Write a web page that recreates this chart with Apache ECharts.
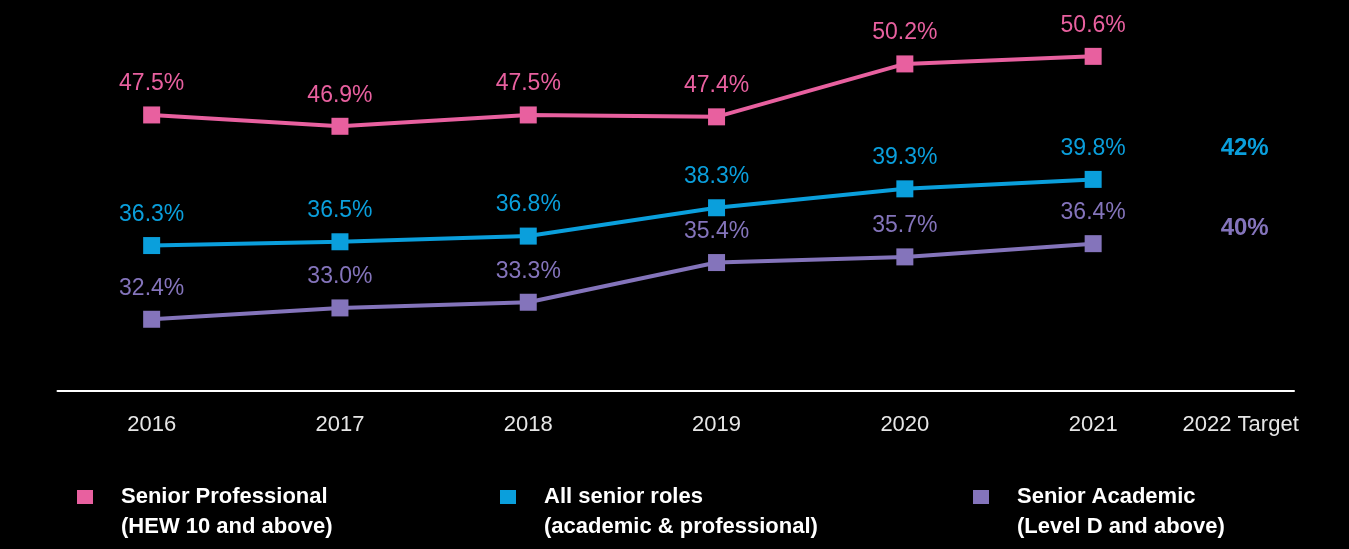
<!DOCTYPE html>
<html>
<head>
<meta charset="utf-8">
<script src="https://cdn.jsdelivr.net/npm/echarts@6/dist/echarts.min.js"></script>
<style>
  html,body{margin:0;padding:0;background:#000;}
  #chart{width:1349px;height:549px;}
</style>
</head>
<body>
<div id="chart"></div>
<script>
var years=['2016','2017','2018','2019','2020','2021'];
var targetCat=['2022 Target'];
var seniorProfessional=[47.5,46.9,47.5,47.4,50.2,50.6];
var allSenior=[36.3,36.5,36.8,38.3,39.3,39.8];
var seniorAcademic=[32.4,33.0,33.3,35.4,35.7,36.4];
var targets=[42,40]; // all senior roles, senior academic

var nameProf='Senior Professional\n(HEW 10 and above)';
var nameAll='All senior roles\n(academic & professional)';
var nameAcad='Senior Academic\n(Level D and above)';

var pink='#e8609f';
var blue='#0a9fdc';
var purple='#8474bb';
var font="'Liberation Sans', Arial, sans-serif";

function lineSeries(name,data,color,yIdx){
  return {
    name:name,
    type:'line',
    xAxisIndex:0,
    yAxisIndex:yIdx,
    data:data,
    clip:false,
    symbol:'rect',
    symbolSize:17,
    lineStyle:{color:color,width:4},
    itemStyle:{color:color},
    label:{
      show:true,
      position:'top',
      distance:11,
      color:color,
      fontSize:23,
      fontFamily:font,
      formatter:function(p){return p.value.toFixed(1)+'%';}
    }
  };
}

// blank first line so the icon sits level with the first text line
function legendFor(name,left){
  return {
    data:[name],
    left:left,
    top:452,
    padding:0,
    icon:'rect',
    itemWidth:16,
    itemHeight:14,
    selectedMode:false,
    formatter:function(n){return '\n'+n;},
    textStyle:{
      color:'#fff',
      fontSize:22,
      fontWeight:'bold',
      fontFamily:font,
      lineHeight:30,
      padding:[0,0,0,23]
    }
  };
}

var xLabel={color:'#e6e6e6',fontSize:22,fontFamily:font,margin:23};
var xLine={lineStyle:{color:'#fff',width:2}};

var option={
  backgroundColor:'#000',
  animation:false,
  grid:[
    {left:57.5,right:161.7,top:12.7,bottom:158.3},
    {left:1187.3,right:55,top:12.7,bottom:158.3}
  ],
  xAxis:[
    {type:'category',gridIndex:0,data:years,axisLine:xLine,axisTick:{show:false},axisLabel:xLabel},
    {type:'category',gridIndex:1,data:targetCat,axisLine:xLine,axisTick:{show:false},axisLabel:xLabel}
  ],
  yAxis:[
    {type:'value',gridIndex:0,min:28.62,max:48.62,show:false},
    {type:'value',gridIndex:0,min:32.91,max:52.91,show:false},
    {type:'value',gridIndex:1,min:28.62,max:48.62,show:false}
  ],
  legend:[
    legendFor(nameProf,77),
    legendFor(nameAll,500),
    legendFor(nameAcad,973)
  ],
  series:[
    lineSeries(nameProf,seniorProfessional,pink,1),
    lineSeries(nameAll,allSenior,blue,0),
    lineSeries(nameAcad,seniorAcademic,purple,0),
    {
      type:'scatter',
      xAxisIndex:1,
      yAxisIndex:2,
      symbolSize:0,
      itemStyle:{opacity:1},
      label:{
        show:true,
        position:'inside',
        fontSize:24,
        fontWeight:'bold',
        fontFamily:font,
        formatter:function(p){return p.value[1]+'%';}
      },
      data:[
        {value:[targetCat[0],targets[0]],label:{color:blue,offset:[4,11]}},
        {value:[targetCat[0],targets[1]],label:{color:purple,offset:[4,53]}}
      ]
    }
  ]
};

var chart=echarts.init(document.getElementById('chart'));
chart.setOption(option);
</script>
</body>
</html>
